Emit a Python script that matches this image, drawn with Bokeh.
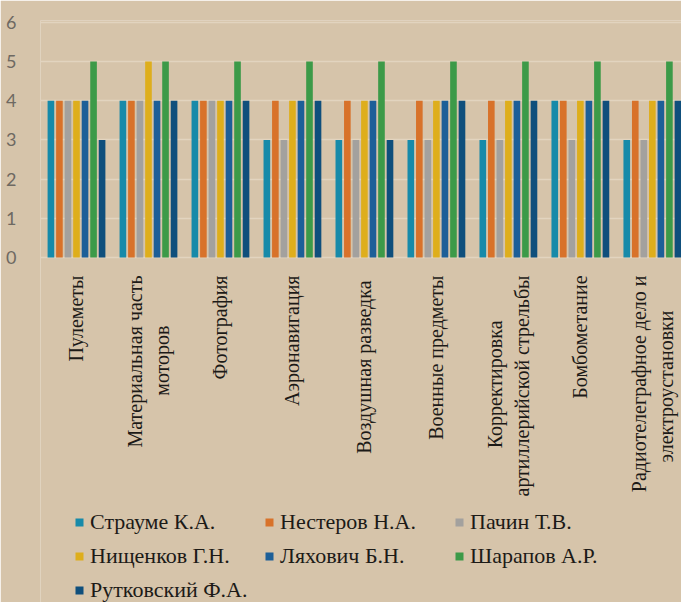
import math
from bokeh.plotting import figure
from bokeh.models import ColumnDataSource, Range1d, FixedTicker, Legend, LegendItem
from bokeh.transform import dodge
from bokeh.embed import file_html
from bokeh.resources import INLINE

NB = "\u00a0"
subjects = [
    "Пулеметы",
    "Материальная часть\nмоторов" + NB * 10,
    "Фотография",
    "Аэронавигация",
    "Воздушная  разведка",
    "Военные предметы",
    "Корректировка" + NB * 9 + "\nартиллерийской стрельбы",
    "Бомбометание",
    "Радиотелеграфное дело и\nэлектроустановки" + NB * 7,
]
names = ["Страуме К.А.", "Нестеров Н.А.", "Пачин Т.В.", "Нищенков Г.Н.",
         "Ляхович Б.Н.", "Шарапов А.Р.", "Рутковский Ф.А."]
straume = [4, 4, 4, 3, 3, 3, 3, 4, 3]
nesterov = [4, 4, 4, 4, 4, 4, 4, 4, 4]
pachin = [4, 4, 4, 3, 3, 3, 3, 3, 3]
nishchenkov = [4, 5, 4, 4, 4, 4, 4, 4, 4]
lyakhovich = [4, 4, 4, 4, 4, 4, 4, 4, 4]
sharapov = [5, 5, 5, 5, 5, 5, 5, 5, 5]
rutkovsky = [3, 4, 4, 4, 3, 4, 4, 4, 4]
series = [straume, nesterov, pachin, nishchenkov, lyakhovich, sharapov, rutkovsky]
colors = ["#178aa9", "#d8722a", "#a3a19e", "#deae1c", "#1d5f98", "#3c9a48", "#0f4f7c"]
y_ticks = [0, 1, 2, 3, 4, 5, 6]

BG = "#d6c4aa"
data = {"idx": list(range(len(subjects)))}
for i, s in enumerate(series):
    data[f"s{i}"] = s
source = ColumnDataSource(data)

# the frame reaches down to the bottom of the picture so that the legend,
# drawn inside it, is not clipped; the category axis is pinned at y = 0
p = figure(frame_width=641, frame_height=582, output_backend="svg", toolbar_location=None,
           x_range=Range1d(-0.5, 8.405), y_range=Range1d(-8.81, 6.05),
           min_border_left=40, min_border_right=0, min_border_top=20,
           min_border_bottom=0)
p.background_fill_color = BG
p.border_fill_color = BG
p.outline_line_color = None

pitch = 0.1185
items = []
for i, (nm, col) in enumerate(zip(names, colors)):
    r = p.vbar(x=dodge("idx", (i - 3) * pitch, range=p.x_range), top=f"s{i}",
               width=0.092, source=source, fill_color=col, line_color=None)
    items.append(LegendItem(label=nm, renderers=[r]))

p.xgrid.visible = False
p.ygrid.ticker = FixedTicker(ticks=y_ticks)
p.ygrid.grid_line_color = "#e2d4bf"
p.ygrid.grid_line_width = 1.5

p.yaxis.ticker = FixedTicker(ticks=y_ticks)
p.yaxis.axis_line_color = None
p.yaxis.major_tick_line_color = None
p.yaxis.minor_tick_line_color = None
p.yaxis.major_label_standoff = 18
p.yaxis.major_label_text_font = "Lato"
p.yaxis.major_label_text_font_size = "18px"
p.yaxis.major_label_text_color = "#6e6962"

p.xaxis.fixed_location = 0
p.xaxis.ticker = FixedTicker(ticks=list(range(len(subjects))))
p.xaxis.major_label_overrides = {i: s for i, s in enumerate(subjects)}
p.xaxis.axis_line_color = None
p.xaxis.major_tick_line_color = None
p.xaxis.minor_tick_line_color = None
p.xaxis.major_label_orientation = math.pi / 2
p.xaxis.major_label_standoff = 12
p.xaxis.major_label_text_font = "Liberation Serif"
p.xaxis.major_label_text_font_size = "20px"
p.xaxis.major_label_text_color = "#1c1a17"

legend = Legend(items=items, orientation="horizontal", ncols=3, location=(34, -1),
                label_text_font="'Liberation Serif', serif", label_text_font_size="22px",
                label_text_color="#1c1a17", glyph_width=10, glyph_height=10,
                label_standoff=6, label_width=166, label_height=25, spacing=8,
                background_fill_alpha=0, border_line_alpha=0, margin=0, padding=0)
p.add_layout(legend, "center")

open("out.html", "w").write(file_html(p, INLINE))
